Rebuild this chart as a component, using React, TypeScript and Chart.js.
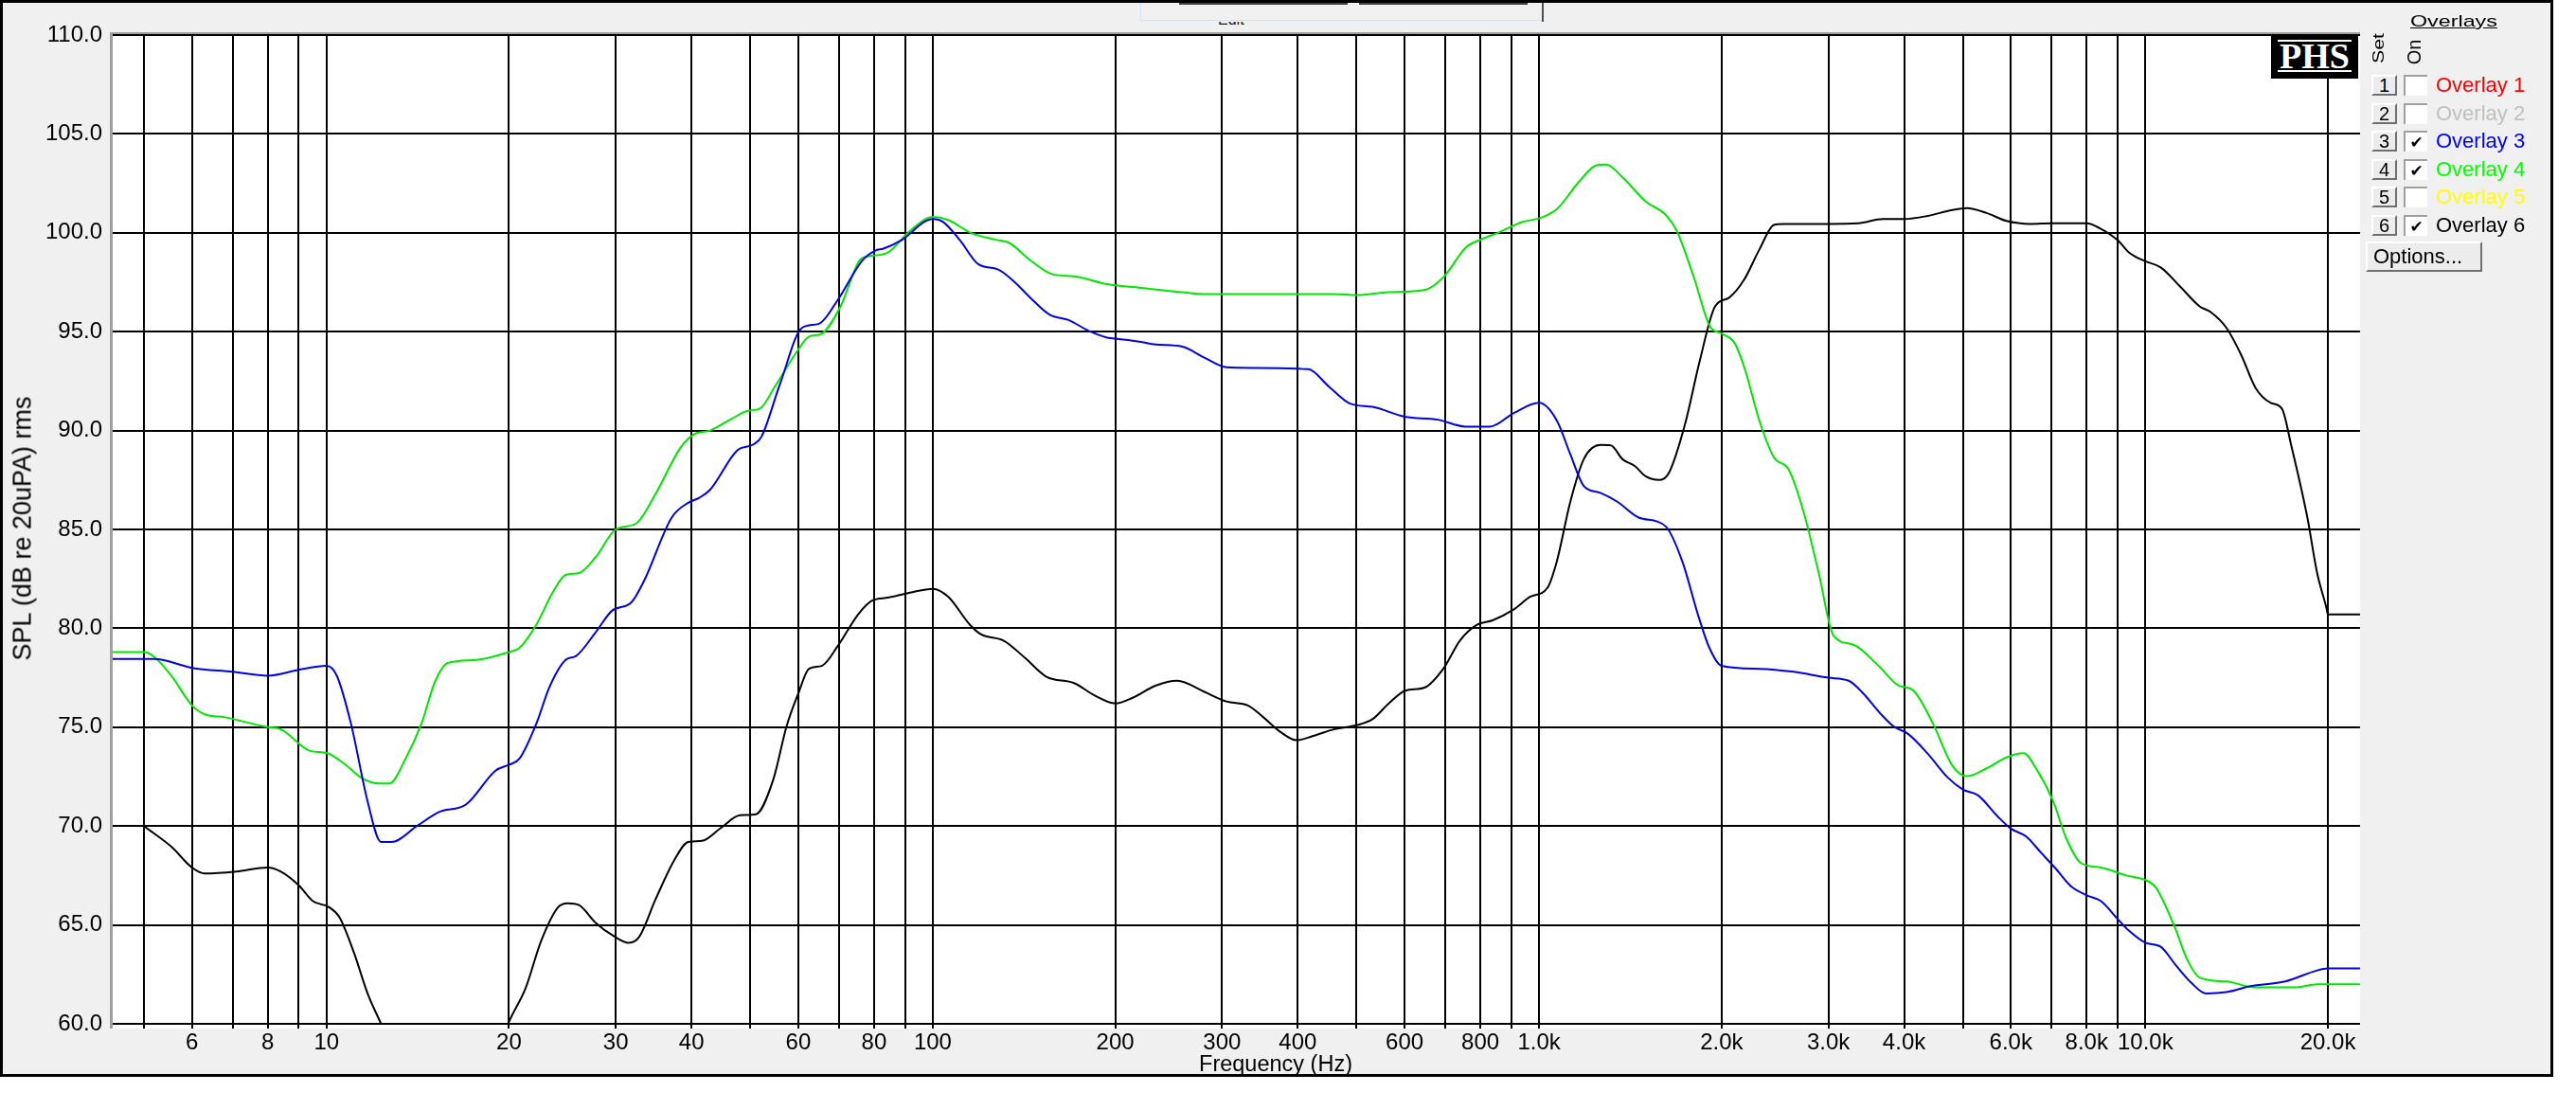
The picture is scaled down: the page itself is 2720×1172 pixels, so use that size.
import { useEffect, useRef } from 'react';
import { Chart, registerables } from 'chart.js';

Chart.register(...registerables);

const sans = "'Liberation Sans', Arial, sans-serif";

// Overlay 3 (blue)
const overlay3Hz = [4.44, 5.2, 6, 7, 8, 9, 10, 10.4, 10.97, 11.7, 12.3, 12.8, 14.1, 15.3, 17, 19, 20, 20.8, 22.2, 23.3, 24.8, 25.8, 27.8, 29.6, 31.8, 33.4, 37.1, 39.5, 41.2, 42.9, 47.6, 50.6, 52.2, 55.9, 60.9, 64.9, 69.7, 76.5, 80.4, 82.9, 88.5, 100, 104, 111, 119, 128, 136, 145, 156, 167, 182, 194, 200, 219, 233, 258, 280, 305, 338, 416, 451, 489, 531, 600, 681, 756, 830, 910, 1000, 1070, 1126, 1185, 1262, 1346, 1460, 1618, 1722, 1830, 1910, 2000, 2310, 2630, 3000, 3240, 3420, 3660, 3840, 4060, 4370, 4720, 5000, 5300, 5700, 6000, 6360, 6730, 7100, 7530, 8000, 8450, 9000, 9400, 10000, 10600, 11200, 11900, 12600, 13600, 14900, 17000, 19200, 20000, 22600];
const overlay3Db = [78.45, 78.45, 78.0, 77.8, 77.6, 77.9, 78.1, 77.6, 75.2, 71.2, 69.2, 69.2, 70.0, 70.7, 71.1, 72.8, 73.1, 73.4, 75.2, 77.0, 78.4, 78.6, 79.8, 80.9, 81.3, 82.4, 85.6, 86.35, 86.6, 87.0, 89.0, 89.3, 89.7, 92.3, 95.2, 95.4, 96.6, 98.6, 99.1, 99.2, 99.6, 100.7, 100.55, 99.6, 98.4, 98.15, 97.55, 96.7, 95.85, 95.6, 95.0, 94.7, 94.65, 94.5, 94.35, 94.24, 93.7, 93.2, 93.17, 93.1, 92.2, 91.35, 91.2, 90.7, 90.55, 90.2, 90.2, 90.9, 91.4, 90.5, 88.8, 87.2, 86.85, 86.4, 85.6, 85.15, 83.4, 80.65, 79.0, 78.1, 77.95, 77.8, 77.5, 77.35, 76.73, 75.67, 75.05, 74.66, 73.68, 72.46, 71.85, 71.55, 70.5, 69.87, 69.47, 68.65, 67.88, 66.97, 66.5, 66.2, 65.3, 64.7, 64.1, 63.9, 63.0, 62.08, 61.53, 61.6, 61.9, 62.14, 62.7, 62.8, 62.8];

// Overlay 4 (green)
const overlay4Hz = [4.44, 5.0, 5.2, 5.55, 6.0, 6.3, 6.8, 8, 8.4, 9.4, 10, 10.75, 11.4, 12.2, 12.7, 13.5, 14.35, 15.1, 15.85, 17.65, 20, 20.8, 22.2, 23.6, 24.8, 26.1, 27.8, 30, 32.4, 34.9, 38.3, 40.3, 42.9, 46.6, 49.6, 51.8, 55.1, 60, 62.5, 65.6, 70.5, 75.7, 78.2, 84.3, 91.7, 100, 106, 115.5, 127, 133.5, 145, 157.5, 171, 194, 223, 248, 280, 374, 460, 500, 565, 647, 696, 758, 800, 855, 940, 1007, 1070, 1165, 1241, 1290, 1373, 1497, 1618, 1687, 1800, 1911, 2000, 2100, 2180, 2310, 2440, 2580, 2730, 2890, 3060, 3300, 3630, 3920, 4130, 4460, 4800, 5080, 5470, 5900, 6300, 6600, 7050, 7400, 7830, 8450, 9300, 10000, 10400, 11200, 11700, 12300, 13600, 15200, 17600, 19200, 22600];
const overlay4Db = [78.8, 78.8, 78.55, 77.6, 76.1, 75.65, 75.5, 75.0, 74.9, 73.8, 73.7, 73.1, 72.45, 72.15, 72.15, 73.4, 75.2, 77.3, 78.25, 78.4, 78.8, 79.0, 80.2, 81.8, 82.7, 82.8, 83.6, 85.0, 85.3, 86.8, 89.1, 89.8, 90.0, 90.6, 91.0, 91.1, 92.3, 94.1, 94.75, 94.9, 96.3, 98.6, 98.8, 99.0, 100.1, 100.8, 100.65, 100.0, 99.65, 99.5, 98.6, 97.9, 97.8, 97.4, 97.2, 97.05, 96.9, 96.9, 96.9, 96.85, 97.0, 97.1, 97.77, 99.27, 99.65, 100.0, 100.55, 100.76, 101.2, 102.6, 103.4, 103.45, 102.8, 101.6, 100.9, 100.1, 97.75, 95.3, 94.9, 94.44, 93.2, 90.47, 88.64, 88.03, 85.9, 82.84, 79.63, 79.17, 78.1, 77.1, 76.89, 75.2, 73.07, 72.52, 72.92, 73.47, 73.68, 72.92, 71.24, 69.4, 68.13, 67.9, 67.5, 67.27, 66.9, 64.83, 63.3, 62.33, 62.14, 61.84, 61.84, 62.0, 62.0];

// Overlay 6 (black)
const overlay6Hz = [5.0, 5.55, 6.0, 6.3, 7.1, 8, 8.4, 9.0, 9.5, 10.1, 10.5, 11.1, 11.7, 12.3, 13, 14, 15.5, 17, 18.5, 19.5, 20, 21.3, 22.6, 24.1, 25.0, 26.1, 27.8, 29.9, 31.5, 32.8, 34.9, 37.5, 39.5, 41.6, 44.7, 48.1, 51.1, 54.5, 57.4, 60, 62.5, 65.6, 69.7, 75.3, 79.4, 84.3, 91.7, 100, 106, 115, 120, 131, 142, 154, 171, 185, 200, 214, 233, 253, 280, 305, 331, 351, 374, 398, 423, 460, 500, 531, 565, 602, 647, 696, 740, 790, 838, 910, 968, 1032, 1070, 1126, 1185, 1262, 1313, 1373, 1440, 1497, 1580, 1640, 1740, 1840, 1950, 2060, 2180, 2310, 2440, 2530, 3000, 3360, 3690, 4000, 4370, 4800, 5080, 5470, 5900, 6470, 7000, 8000, 8400, 9000, 9400, 10000, 10600, 11400, 12300, 12800, 13600, 14400, 15200, 16100, 16800, 17400, 18500, 19200, 19900, 20000, 22600];
const overlay6Db = [70.0, 68.95, 67.9, 67.6, 67.7, 67.9, 67.7, 67.0, 66.2, 65.9, 65.4, 63.6, 61.5, 60.0, 58.2, 56.8, 56.0, 56.3, 57.6, 59.2, 60.1, 61.8, 64.2, 65.9, 66.1, 66.0, 65.1, 64.4, 64.1, 64.4, 66.3, 68.3, 69.2, 69.25, 69.9, 70.55, 70.6, 72.3, 75.05, 76.7, 77.95, 78.1, 79.1, 80.7, 81.4, 81.55, 81.8, 82.0, 81.6, 80.2, 79.7, 79.37, 78.5, 77.55, 77.23, 76.6, 76.2, 76.5, 77.1, 77.35, 76.8, 76.3, 76.1, 75.5, 74.77, 74.34, 74.55, 74.9, 75.1, 75.4, 76.2, 76.85, 77.0, 77.98, 79.37, 80.18, 80.4, 80.97, 81.6, 82.04, 83.4, 86.4, 88.55, 89.27, 89.25, 88.55, 88.2, 87.7, 87.5, 87.9, 90.3, 93.5, 96.27, 96.73, 97.64, 99.17, 100.4, 100.45, 100.45, 100.48, 100.7, 100.7, 100.85, 101.15, 101.25, 101.0, 100.6, 100.45, 100.48, 100.48, 100.24, 99.63, 99.0, 98.56, 98.25, 97.3, 96.27, 96.0, 95.2, 93.8, 92.15, 91.4, 91.1, 89.25, 85.6, 82.8, 81.0, 80.7, 80.7];

// axes
const gridHz = [5, 6, 7, 8, 9, 10, 20, 30, 40, 50, 60, 70, 80, 90, 100, 200, 300, 400, 500, 600, 700, 800, 900, 1000, 2000, 3000, 4000, 5000, 6000, 7000, 8000, 9000, 10000, 20000];
const labelHz = [6, 8, 10, 20, 30, 40, 60, 80, 100, 200, 300, 400, 600, 800, 1000, 2000, 3000, 4000, 6000, 8000, 10000, 20000];
const splTicks = [60, 65, 70, 75, 80, 85, 90, 95, 100, 105, 110];

// overlay panel
const overlaySet = ['1', '2', '3', '4', '5', '6'];
const overlayNames = ['Overlay 1', 'Overlay 2', 'Overlay 3', 'Overlay 4', 'Overlay 5', 'Overlay 6'];
const overlayColors = ['#ff0000', '#c0c0c0', '#0000ff', '#00ff00', '#ffff00', '#000000'];
const overlayOn = [false, false, true, true, false, true];

const formatHz = (f: number) => (f >= 1000 ? (f / 1000).toFixed(1) + 'k' : String(f));
const toPoints = (hz: number[], db: number[]) => hz.map((x, i) => ({ x, y: db[i] }));

// white plot face with the grey sunken edge on top and left
const plotBackground = {
  id: 'plotBackground',
  beforeDraw(chart: Chart) {
    const { ctx, chartArea: a } = chart;
    ctx.save();
    ctx.fillStyle = '#ffffff';
    ctx.fillRect(a.left, a.top, a.right - a.left, a.bottom - a.top + 5);
    ctx.fillStyle = '#a0a0a0';
    ctx.fillRect(a.left - 3, a.top - 3, a.right - a.left + 3, 3);
    ctx.fillRect(a.left - 3, a.top - 3, 3, a.bottom - a.top + 8);
    ctx.restore();
  },
};

const raised = {
  boxSizing: 'border-box' as const,
  borderTop: '2px solid #ffffff',
  borderLeft: '2px solid #ffffff',
  borderRight: '2px solid #707070',
  borderBottom: '2px solid #707070',
  background: '#ececec',
};

const SplChart = () => {
  const chartRef = useRef<HTMLCanvasElement | null>(null);
  const chartInstance = useRef<Chart | null>(null);

  useEffect(() => {
    if (!chartRef.current) return;
    if (chartInstance.current) chartInstance.current.destroy();

    const tickFont = { family: sans, size: 24 };

    chartInstance.current = new Chart(chartRef.current, {
      type: 'line',
      data: {
        datasets: [
          { label: 'Overlay 3', data: toPoints(overlay3Hz, overlay3Db), borderColor: '#0000e0' },
          { label: 'Overlay 4', data: toPoints(overlay4Hz, overlay4Db), borderColor: '#00e600' },
          { label: 'Overlay 6', data: toPoints(overlay6Hz, overlay6Db), borderColor: '#000000' },
        ],
      },
      options: {
        animation: false,
        responsive: false,
        devicePixelRatio: 1,
        layout: { padding: { top: 37, right: 228, bottom: 0, left: 0 }, autoPadding: false },
        elements: {
          point: { radius: 0 },
          line: { borderWidth: 2, cubicInterpolationMode: 'monotone' },
        },
        plugins: { legend: { display: false }, tooltip: { enabled: false } },
        scales: {
          x: {
            type: 'logarithmic',
            min: 4.44,
            max: 22600,
            afterBuildTicks: (scale: any) => {
              scale.ticks = gridHz.map((value) => ({ value }));
            },
            afterFit: (scale: any) => {
              scale.height = 91;
            },
            grid: { color: '#000000', lineWidth: 2, tickLength: 5 },
            border: { display: false },
            ticks: {
              autoSkip: false,
              maxRotation: 0,
              padding: 1,
              color: '#000000',
              font: tickFont,
              callback: (v: any) => (labelHz.includes(Number(v)) ? formatHz(Number(v)) : ''),
            },
          },
          y: {
            min: 60,
            max: 110,
            afterBuildTicks: (scale: any) => {
              scale.ticks = splTicks.map((value) => ({ value }));
            },
            afterFit: (scale: any) => {
              scale.width = 119;
            },
            grid: { color: '#000000', lineWidth: 2, drawTicks: false },
            border: { display: false },
            ticks: {
              padding: 11,
              color: '#000000',
              font: tickFont,
              callback: (v: any) => Number(v).toFixed(1),
            },
          },
        },
      },
      plugins: [plotBackground],
    });

    return () => {
      if (chartInstance.current) {
        chartInstance.current.destroy();
        chartInstance.current = null;
      }
    };
  }, []);

  return (
    <canvas
      ref={chartRef}
      width={2720}
      height={1172}
      style={{ position: 'absolute', left: 0, top: 0, width: 2720, height: 1172 }}
    ></canvas>
  );
};

const App = () => {
  return (
    <div style={{ position: 'absolute', left: 0, top: 0, width: 2720, height: 1172, background: '#ffffff', overflow: 'hidden', fontFamily: sans }}>
      {/* window frame */}
      <div style={{ position: 'absolute', left: 0, top: 0, width: 2696, height: 1137, boxSizing: 'border-box', border: '3px solid #000000', background: '#f0f0f0' }} />

      {/* cut-off toolbar remnants */}
      <div style={{ position: 'absolute', left: 1245, top: 3, width: 178, height: 2, background: '#404040' }} />
      <div style={{ position: 'absolute', left: 1435, top: 3, width: 178, height: 2, background: '#404040' }} />
      <div style={{ position: 'absolute', left: 1204, top: 3, width: 1, height: 19, background: '#d6e2ee' }} />
      <div style={{ position: 'absolute', left: 1204, top: 21, width: 425, height: 1, background: '#d6e2ee' }} />
      <div style={{ position: 'absolute', left: 1628, top: 3, width: 2, height: 20, background: '#505050' }} />
      <div style={{ position: 'absolute', left: 1286, top: 23, width: 44, height: 5, overflow: 'hidden' }}>
        <div style={{ position: 'absolute', left: 0, top: -10, font: `16px ${sans}`, lineHeight: '16px', color: '#202020' }}>Edit</div>
      </div>

      <SplChart />

      {/* axis titles */}
      <div style={{ position: 'absolute', left: 24, top: 558, transform: 'translate(-50%, -50%) rotate(-90deg)', whiteSpace: 'nowrap', font: `27px ${sans}`, lineHeight: '27px', color: '#000000' }}>
        SPL (dB re 20uPA) rms
      </div>
      <div style={{ position: 'absolute', left: 1347, top: 1111, transform: 'translateX(-50%)', whiteSpace: 'nowrap', font: `23.5px ${sans}`, lineHeight: '24px', color: '#000000' }}>
        Frequency (Hz)
      </div>

      {/* PHS logo */}
      <div style={{ position: 'absolute', left: 2398, top: 36, width: 92, height: 47, background: '#000000' }}>
        <div style={{ position: 'absolute', left: 7, top: 6, width: 78, height: 2, background: '#ffffff' }} />
        <div style={{ position: 'absolute', left: 7, top: 38, width: 78, height: 2, background: '#ffffff' }} />
        <div style={{ position: 'absolute', left: 0, top: 0, width: 92, height: 47, textAlign: 'center', font: "bold 38px 'Liberation Serif', 'Times New Roman', serif", lineHeight: '47px', color: '#ffffff' }}>PHS</div>
      </div>

      {/* overlay panel */}
      <div style={{ position: 'absolute', left: 2545, top: 14, font: `17px ${sans}`, lineHeight: '17px', textDecoration: 'underline', color: '#000000', whiteSpace: 'nowrap', transform: 'scaleX(1.37)', transformOrigin: 'left top' }}>Overlays</div>
      <div style={{ position: 'absolute', left: 2512, top: 51, transform: 'translate(-50%, -50%) rotate(-90deg) scaleX(1.33)', font: `16px ${sans}`, lineHeight: '16px', whiteSpace: 'nowrap' }}>Set</div>
      <div style={{ position: 'absolute', left: 2549, top: 55, transform: 'translate(-50%, -50%) rotate(-90deg)', font: `20px ${sans}`, lineHeight: '20px', whiteSpace: 'nowrap' }}>On</div>

      {overlayNames.map((name, i) => {
        const cy = 90 + i * 29.5;
        return (
          <div key={name}>
            <div style={{ ...raised, position: 'absolute', left: 2504, top: cy - 11, width: 27, height: 22, textAlign: 'center', font: `20px ${sans}`, lineHeight: '18px', color: '#000000' }}>
              {overlaySet[i]}
            </div>
            <div style={{ position: 'absolute', left: 2538, top: cy - 11, width: 25, height: 22, boxSizing: 'border-box', background: '#ffffff', borderTop: '2px solid #a0a0a0', borderLeft: '2px solid #a0a0a0', textAlign: 'center', font: "bold 17px 'DejaVu Sans', sans-serif", lineHeight: '20px', color: '#000000' }}>
              {overlayOn[i] ? '✔' : ''}
            </div>
            <div style={{ position: 'absolute', left: 2572, top: cy - 11, font: `22px ${sans}`, lineHeight: '22px', whiteSpace: 'nowrap', color: overlayColors[i] }}>
              {name}
            </div>
          </div>
        );
      })}

      <div style={{ ...raised, position: 'absolute', left: 2498, top: 255, width: 123, height: 32, paddingLeft: 6, font: `22px ${sans}`, lineHeight: '27px', color: '#000000', whiteSpace: 'nowrap' }}>
        Options...
      </div>
    </div>
  );
};

export default App;
